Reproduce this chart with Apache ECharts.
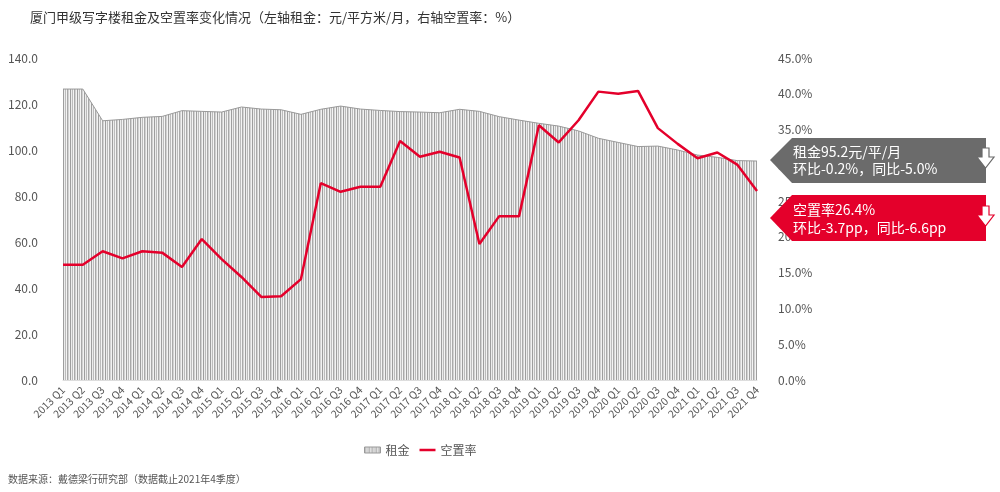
<!DOCTYPE html>
<html>
<head>
<meta charset="utf-8">
<script src="https://cdn.jsdelivr.net/npm/echarts@6/dist/echarts.min.js"></script>
<style>
html,body{margin:0;padding:0;background:#fff;}
#chart{width:1000px;height:492px;}
</style>
</head>
<body>
<div id="chart"></div>
<script>
const categories = [
 '2013 Q1','2013 Q2','2013 Q3','2013 Q4',
 '2014 Q1','2014 Q2','2014 Q3','2014 Q4',
 '2015 Q1','2015 Q2','2015 Q3','2015 Q4',
 '2016 Q1','2016 Q2','2016 Q3','2016 Q4',
 '2017 Q1','2017 Q2','2017 Q3','2017 Q4',
 '2018 Q1','2018 Q2','2018 Q3','2018 Q4',
 '2019 Q1','2019 Q2','2019 Q3','2019 Q4',
 '2020 Q1','2020 Q2','2020 Q3','2020 Q4',
 '2021 Q1','2021 Q2','2021 Q3','2021 Q4'
];
const rent = [
 126.5,126.5,112.7,113.3,
 114.2,114.6,117.1,116.8,
 116.5,118.7,117.8,117.5,
 115.5,117.7,119.1,117.8,
 117.2,116.7,116.5,116.2,
 117.7,116.8,114.5,113.0,
 111.6,110.4,108.3,105.1,
 103.3,101.5,101.7,100.0,
 97.8,96.8,95.4,95.2
];
const vacancy = [
 16.1,16.1,18.0,17.0,
 18.0,17.8,15.8,19.7,
 16.9,14.4,11.6,11.7,
 14.1,27.5,26.3,27.0,
 27.0,33.4,31.2,31.9,
 31.1,19.0,22.9,22.9,
 35.6,33.2,36.3,40.3,
 40.0,40.4,35.2,33.0,
 31.0,31.8,30.1,26.4
];
const leftTicks = {min:0, max:140, interval:20};
const rightTicks = {min:0, max:45, interval:5};
const seriesNames = ['租金','空置率'];
const titleText = '厦门甲级写字楼租金及空置率变化情况（左轴租金：元/平方米/月，右轴空置率：%）';
const sourceText = '数据来源：戴德梁行研究部（数据截止2021年4季度）';
const rentNote = '租金95.2元/平/月\n环比-0.2%，同比-5.0%';
const vacNote = '空置率26.4%\n环比-3.7pp，同比-6.6pp';

// hatch pattern
const pc = document.createElement('canvas');
pc.width = 7; pc.height = 4;
const g = pc.getContext('2d');
const shades = ['#9e9e9e','#ececec','#bcbcbc','#f4f4f4','#a9a9a9','#d2d2d2','#f2f2f2'];
shades.forEach((c,i)=>{ g.fillStyle=c; g.fillRect(i,0,1,4); });
const hatch = {image: pc, repeat: 'repeat'};

const FONT = "'Noto Sans CJK SC', 'Noto Sans', sans-serif";
const chart = echarts.init(document.getElementById('chart'), null, {renderer:'canvas'});
const GRAY = '#6b6b6b', RED = '#e4002b';
chart.setOption({
  animation:false,
  textStyle:{fontFamily:FONT},
  title:{text:titleText,left:25,top:6,textStyle:{fontSize:13,fontWeight:'normal',color:'#333',fontFamily:FONT}},
  grid:{left:63,right:243,top:58,bottom:112,containLabel:false},
  legend:{
    left:359, top:439, itemWidth:16, itemHeight:6, itemGap:10,
    textStyle:{fontSize:12,color:'#555',fontFamily:FONT},
    data:[
      {name:seriesNames[0], icon:'rect', itemStyle:{color:hatch, borderColor:'#999', borderWidth:1}},
      {name:seriesNames[1], icon:'path://M0,0H16V2.5H0Z', itemStyle:{color:RED}}
    ]
  },
  xAxis:{
    type:'category', data:categories, boundaryGap:false,
    axisTick:{show:false},
    axisLine:{lineStyle:{color:'#ddd'}},
    axisLabel:{rotate:45, interval:0, fontSize:10.5, color:'#555', margin:8, fontFamily:FONT}
  },
  yAxis:[
    {type:'value', min:leftTicks.min, max:leftTicks.max, interval:leftTicks.interval,
     splitLine:{show:false}, axisLine:{show:false}, axisTick:{show:false},
     axisLabel:{formatter:v=>v.toFixed(1), fontSize:12, color:'#555', margin:25, fontFamily:FONT}},
    {type:'value', min:rightTicks.min, max:rightTicks.max, interval:rightTicks.interval,
     splitLine:{show:false}, axisLine:{show:false}, axisTick:{show:false},
     axisLabel:{formatter:v=>v.toFixed(1)+'%', fontSize:12, color:'#555', margin:21, fontFamily:FONT}}
  ],
  series:[
    {name:seriesNames[0], type:'line', data:rent, symbol:'none', z:1,
     lineStyle:{color:'#999', width:1}, itemStyle:{color:'#999'},
     areaStyle:{color:hatch, opacity:1}},
    {name:seriesNames[1], type:'line', yAxisIndex:1, data:vacancy, symbol:'none', z:3,
     lineStyle:{color:RED, width:2.5}, itemStyle:{color:RED}}
  ],
  graphic:[
    {type:'polygon', z:100, shape:{points:[[770,160],[792,138],[986,138],[986,183],[792,183]]}, style:{fill:GRAY}},
    {type:'text', z:101, left:793, top:143, style:{text:rentNote, fill:'#fff', fontSize:14, lineHeight:17, fontFamily:FONT}},
    {type:'polygon', z:102, shape:{points:[[982,148],[989,148],[989,157],[994,157],[985.5,168],[977,157],[982,157]]}, style:{fill:'#fff', stroke:GRAY, lineWidth:1.2}},
    {type:'polygon', z:100, shape:{points:[[770,218],[792,195],[986,195],[986,241],[792,241]]}, style:{fill:RED}},
    {type:'text', z:101, left:793, top:201, style:{text:vacNote, fill:'#fff', fontSize:14, lineHeight:18, fontFamily:FONT}},
    {type:'polygon', z:102, shape:{points:[[982,206],[989,206],[989,215],[994,215],[985.5,226],[977,215],[982,215]]}, style:{fill:'#fff', stroke:RED, lineWidth:1.2}},
    {type:'text', z:100, left:8, top:474, style:{text:sourceText, fill:'#555', fontSize:10, fontFamily:FONT}}
  ]
});
</script>
</body>
</html>
